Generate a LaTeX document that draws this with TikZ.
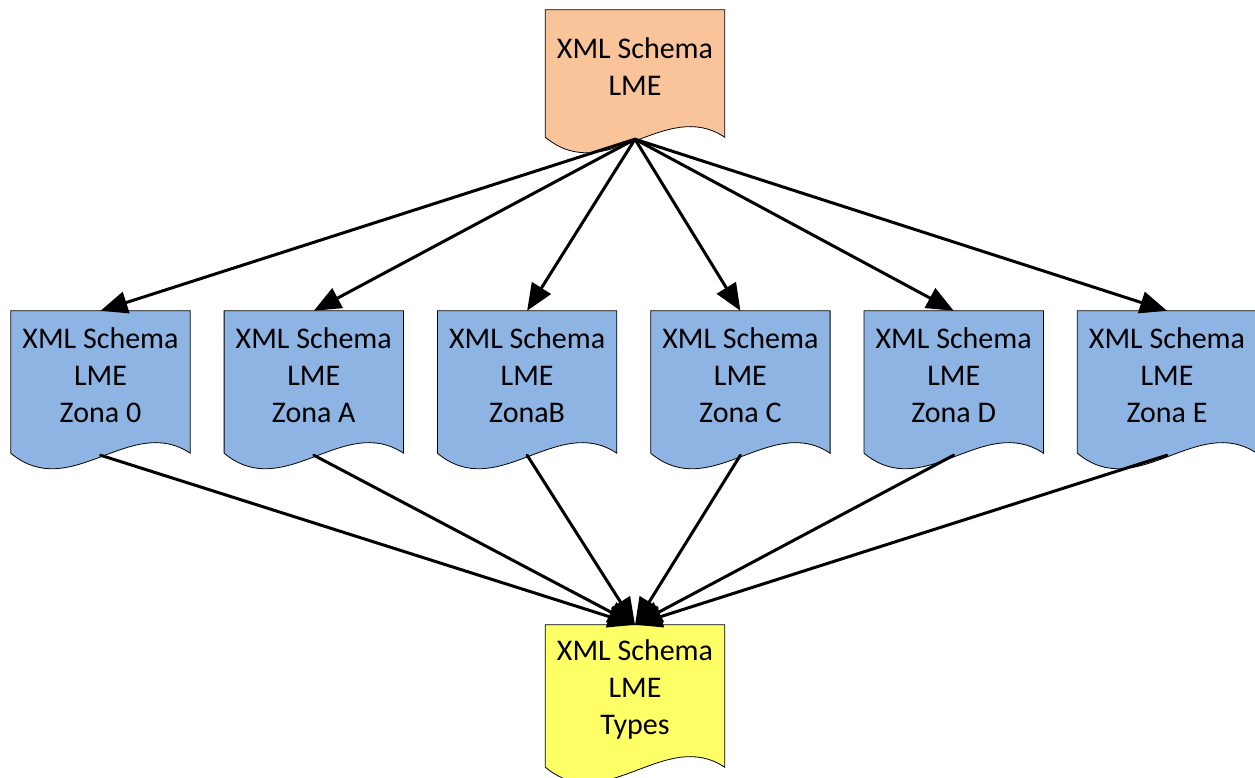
\documentclass[tikz,border=0pt]{standalone}
\usepackage{fontspec}
\setmainfont{Carlito}
\usepackage{tikz}
\usetikzlibrary{arrows.meta,calc,backgrounds}
\definecolor{docpeach}{RGB}{249,196,153}
\definecolor{docblue}{RGB}{142,180,227}
\definecolor{docyellow}{RGB}{255,255,102}
\newcommand{\docpath}[1]{(#1.north west) -- (#1.north east) -- ($(#1.south east)+(0,13)$) .. controls +(-60,-40) and +(60,50) .. ($(#1.south west)+(0,13)$) -- cycle}
\begin{document}
\begin{tikzpicture}[line cap=round,line join=round,x=1pt,y=-1pt,
  doc/.style={minimum width=179pt,minimum height=129pt,inner sep=0pt,align=center,font=\fontsize{30}{37}\selectfont},
  link/.style={line width=3pt,-{Triangle[length=27pt,width=22pt]}}]
\useasboundingbox (0,0) rectangle (1255,778);
\node[doc,minimum height=114pt] (lme) at (635,67) {XML Schema\\LME};
\node[doc] (zona0) at (100.5,375.5) {XML Schema\\LME\\Zona 0};
\node[doc] (zonaA) at (313.8,375.5) {XML Schema\\LME\\Zona A};
\node[doc] (zonaB) at (527.1,375.5) {XML Schema\\LME\\ZonaB};
\node[doc] (zonaC) at (740.4,375.5) {XML Schema\\LME\\Zona C};
\node[doc] (zonaD) at (953.7,375.5) {XML Schema\\LME\\Zona D};
\node[doc] (zonaE) at (1167,375.5) {XML Schema\\LME\\Zona E};
\node[doc] (types) at (635,689.5) {XML Schema\\LME\\Types};
\begin{scope}[on background layer]
\draw [line width=0.8pt,fill=docpeach] \docpath{lme};
\draw [line width=0.8pt,fill=docblue] \docpath{zona0};
\draw [line width=0.8pt,fill=docblue] \docpath{zonaA};
\draw [line width=0.8pt,fill=docblue] \docpath{zonaB};
\draw [line width=0.8pt,fill=docblue] \docpath{zonaC};
\draw [line width=0.8pt,fill=docblue] \docpath{zonaD};
\draw [line width=0.8pt,fill=docblue] \docpath{zonaE};
\draw [line width=0.8pt,fill=docyellow] \docpath{types};
\end{scope}
\coordinate (lmeout) at ($(lme.south)+(0,15)$);
\coordinate (zona0out) at ($(zona0.south)+(0,15)$);
\coordinate (zonaAout) at ($(zonaA.south)+(0,15)$);
\coordinate (zonaBout) at ($(zonaB.south)+(0,15)$);
\coordinate (zonaCout) at ($(zonaC.south)+(0,15)$);
\coordinate (zonaDout) at ($(zonaD.south)+(0,15)$);
\coordinate (zonaEout) at ($(zonaE.south)+(0,15)$);
\draw [link] (lmeout) -- (zona0.north);
\draw [link] (lmeout) -- (zonaA.north);
\draw [link] (lmeout) -- (zonaB.north);
\draw [link] (lmeout) -- (zonaC.north);
\draw [link] (lmeout) -- (zonaD.north);
\draw [link] (lmeout) -- (zonaE.north);
\draw [link] (zona0out) -- (types.north);
\draw [link] (zonaAout) -- (types.north);
\draw [link] (zonaBout) -- (types.north);
\draw [link] (zonaCout) -- (types.north);
\draw [link] (zonaDout) -- (types.north);
\draw [link] (zonaEout) -- (types.north);
\end{tikzpicture}
\end{document}
